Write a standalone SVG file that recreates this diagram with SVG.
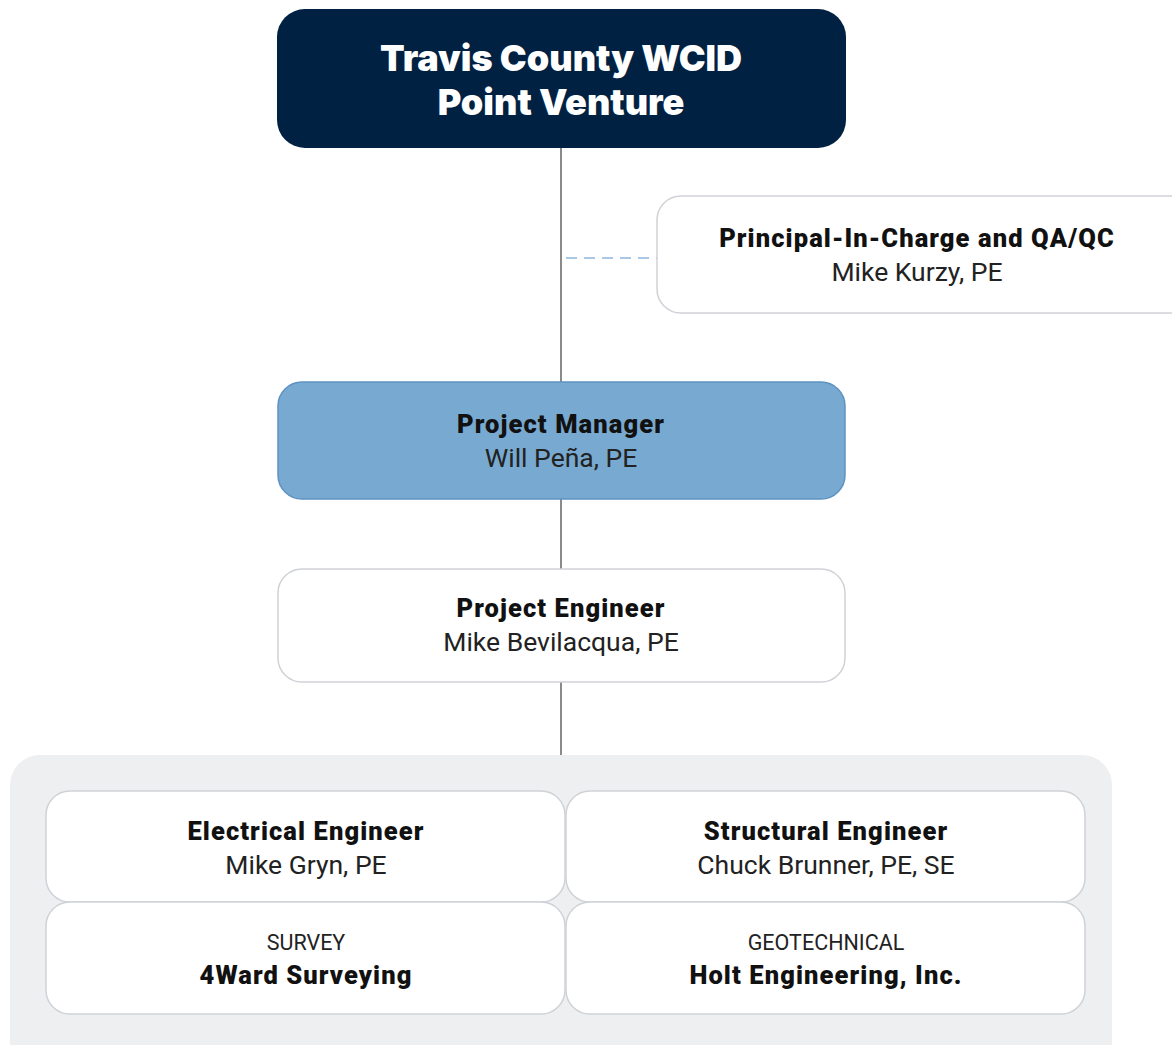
<svg xmlns="http://www.w3.org/2000/svg" width="1172" height="1045" viewBox="0 0 1172 1045">
<style>
.t{font-family:Roboto,"Liberation Sans",sans-serif;font-weight:900;font-size:25.5px;letter-spacing:1.1px;fill:#111;text-anchor:middle}
.n{font-family:Roboto,"Liberation Sans",sans-serif;font-weight:400;font-size:26.5px;fill:#222;text-anchor:middle}
.s{font-family:Roboto,"Liberation Sans",sans-serif;font-weight:400;font-size:21.5px;fill:#222;text-anchor:middle}
.top{font-family:Inter,Roboto,sans-serif;font-weight:900;font-size:36px;fill:#fff;text-anchor:middle}
.box{fill:#fff;stroke:#cfd2d6;stroke-width:1.5}
.ln{stroke:#8a8a8a;stroke-width:2;fill:none}
</style>
<rect width="1172" height="1045" fill="#fff"/>
<g id="connectors">
<line class="ln" x1="561" y1="148" x2="561" y2="382"/>
<line class="ln" x1="561" y1="499" x2="561" y2="569"/>
<line class="ln" x1="561" y1="682" x2="561" y2="756"/>
<line x1="566" y1="258" x2="657" y2="258" stroke="#a9c8e6" stroke-width="2" stroke-dasharray="11 7"/>
</g>
<g id="client">
<rect x="277" y="9" width="569" height="139" rx="28" fill="#012142"/>
<text class="top" x="561" y="71">Travis County WCID</text>
<text class="top" x="561" y="115">Point Venture</text>
</g>
<g id="principal">
<rect class="box" x="657" y="196" width="540" height="117" rx="24"/>
<text class="t" x="917" y="247">Principal-In-Charge and QA/QC</text>
<text class="n" x="917" y="281">Mike Kurzy, PE</text>
</g>
<g id="pm">
<rect x="278" y="382" width="567" height="117" rx="24" fill="#78a9d0" stroke="#5d93c2" stroke-width="1.5"/>
<text class="t" x="561" y="433">Project Manager</text>
<text class="n" x="561" y="467">Will Peña, PE</text>
</g>
<g id="pe">
<rect class="box" x="278" y="569" width="567" height="113" rx="24"/>
<text class="t" x="561" y="617">Project Engineer</text>
<text class="n" x="561" y="651">Mike Bevilacqua, PE</text>
</g>
<g id="team">
<rect x="10" y="755" width="1102" height="320" rx="30" fill="#eeeff1"/>
</g>
<g id="electrical">
<rect class="box" x="46" y="791" width="519" height="111" rx="24"/>
<text class="t" x="306" y="840">Electrical Engineer</text>
<text class="n" x="306" y="874">Mike Gryn, PE</text>
</g>
<g id="structural">
<rect class="box" x="566" y="791" width="519" height="111" rx="24"/>
<text class="t" x="826" y="840">Structural Engineer</text>
<text class="n" x="826" y="874">Chuck Brunner, PE, SE</text>
</g>
<g id="survey">
<rect class="box" x="46" y="902" width="519" height="112" rx="24"/>
<text class="s" x="306" y="950">SURVEY</text>
<text class="t" x="306" y="984">4Ward Surveying</text>
</g>
<g id="geotechnical">
<rect class="box" x="566" y="902" width="519" height="112" rx="24"/>
<text class="s" x="826" y="950">GEOTECHNICAL</text>
<text class="t" x="826" y="984">Holt Engineering, Inc.</text>
</g>
</svg>
